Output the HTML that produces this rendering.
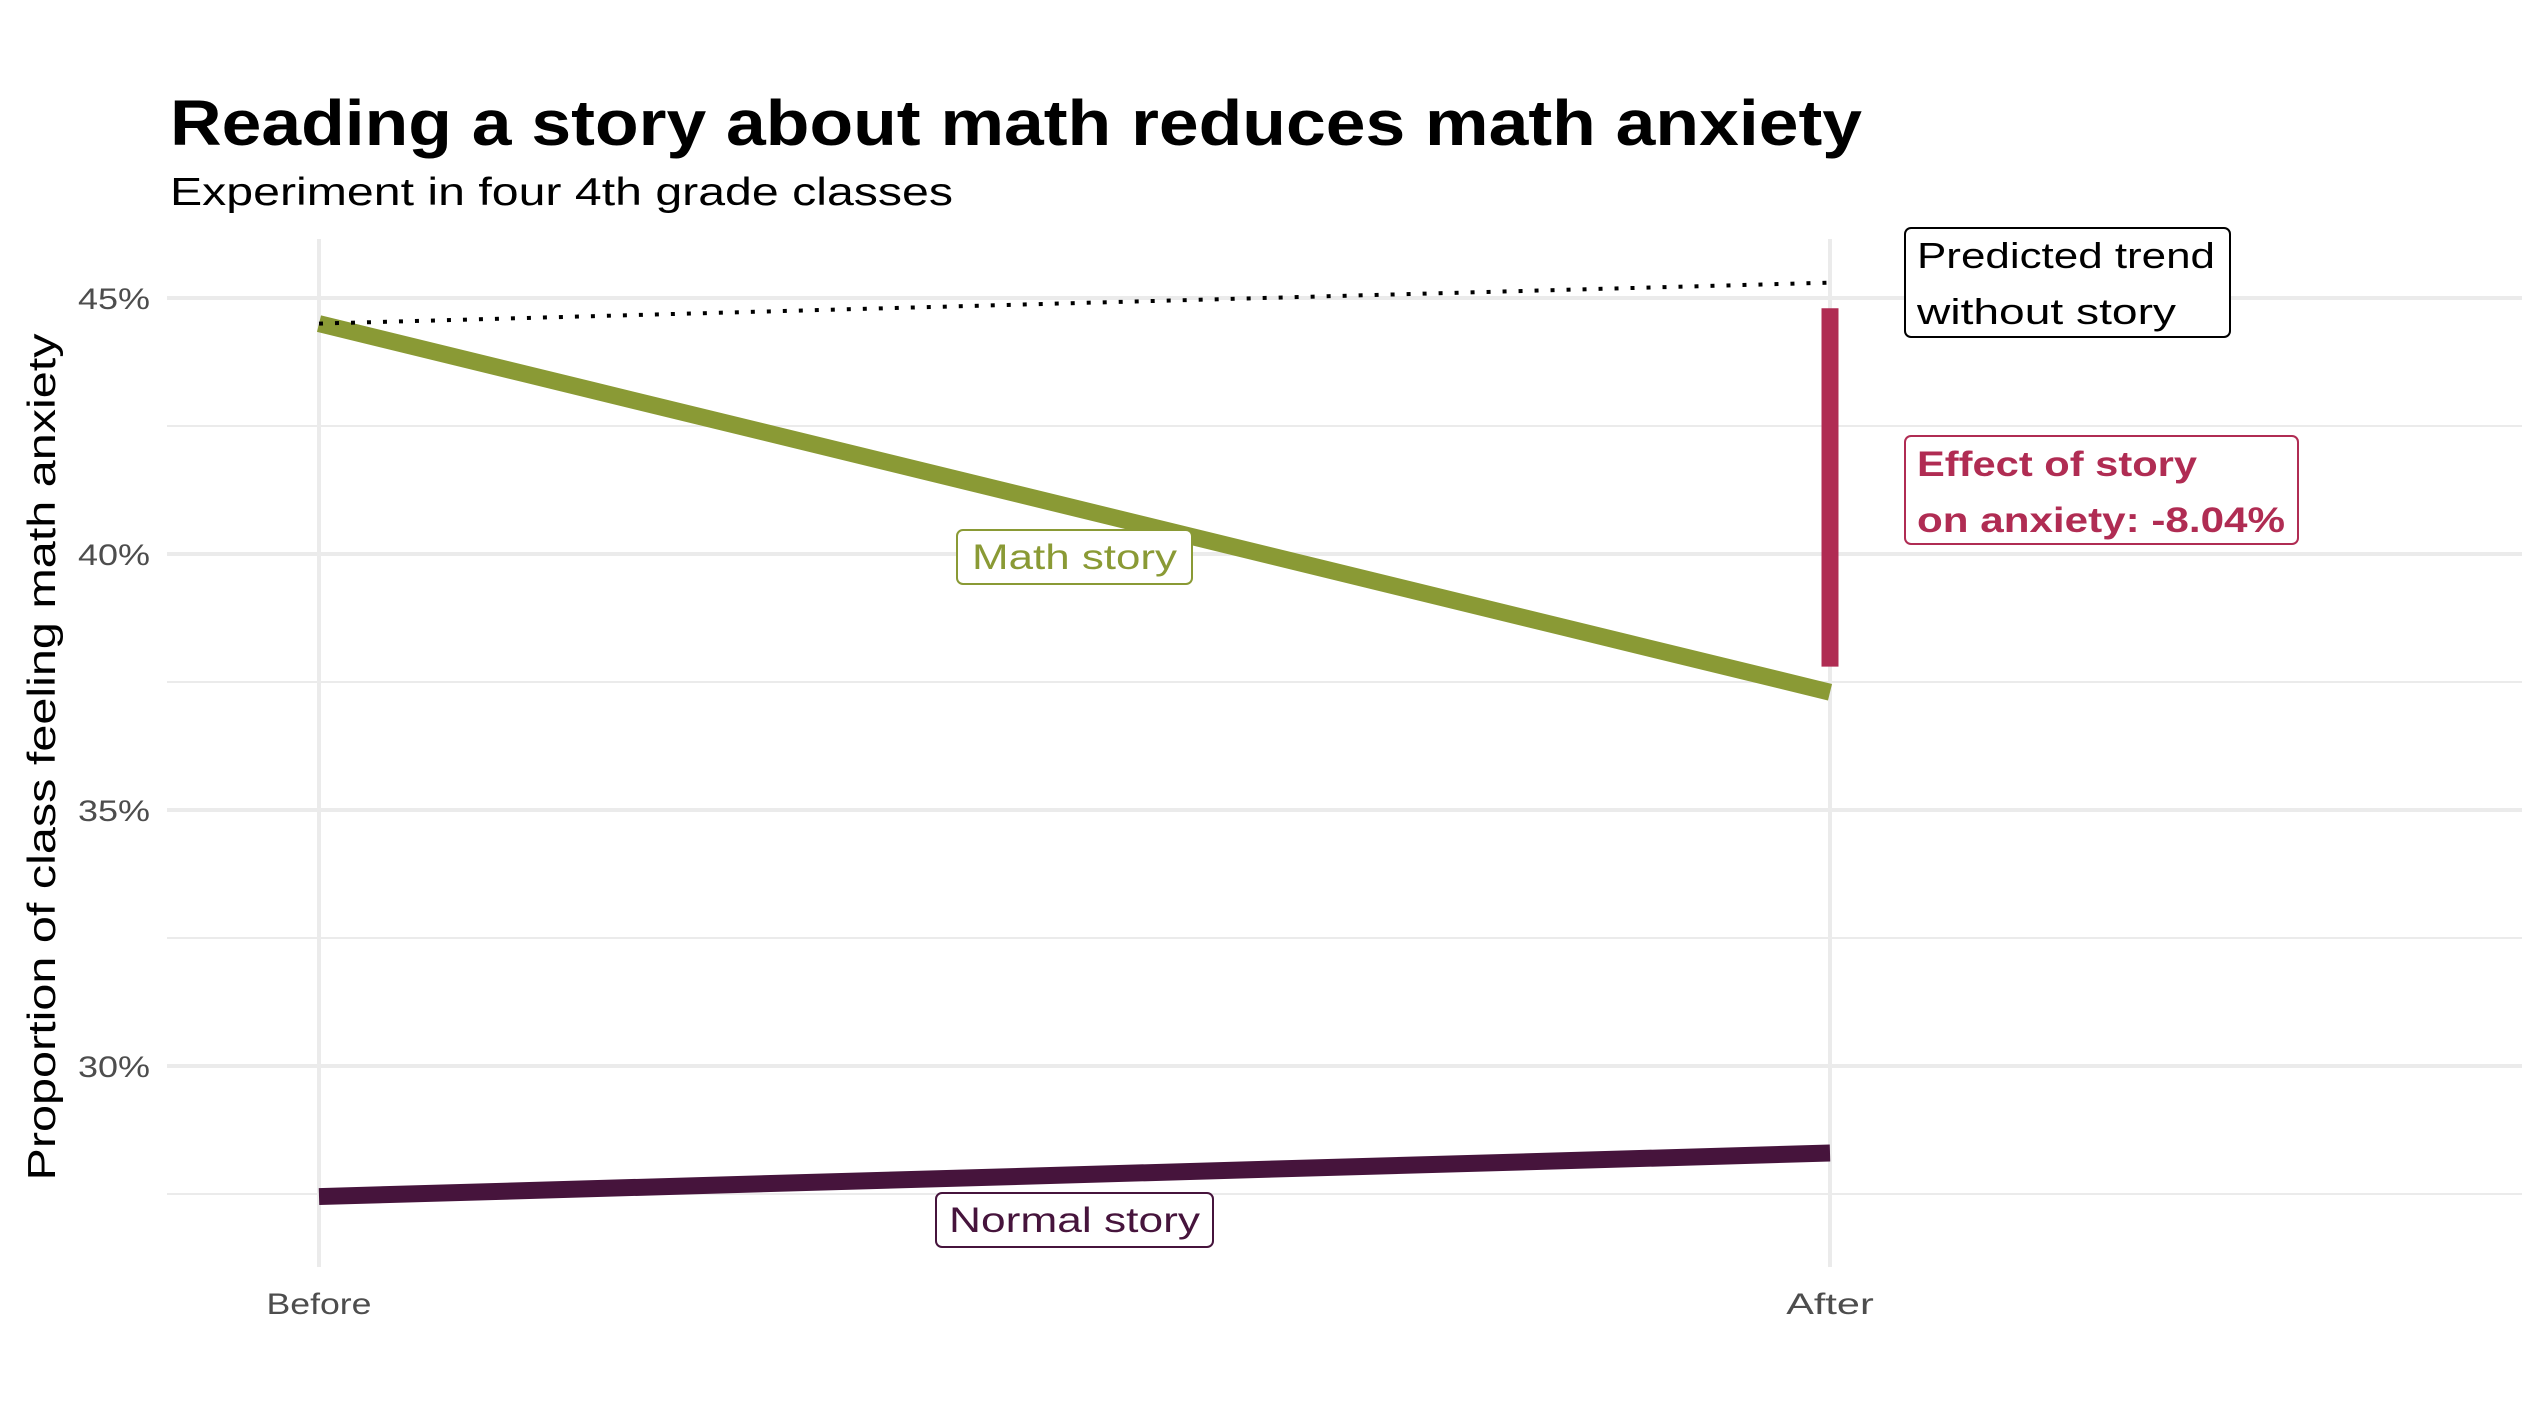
<!DOCTYPE html>
<html><head><meta charset="utf-8"><style>
html,body{margin:0;padding:0;background:#fff;}
svg{display:block;font-family:"Liberation Sans",sans-serif;}
</style></head><body>
<svg id="chart" width="2540" height="1422" viewBox="0 0 2540 1422">
<text x="170" y="145" font-size="64" font-weight="bold" fill="#000" textLength="1692" lengthAdjust="spacingAndGlyphs">Reading a story about math reduces math anxiety</text>
<text x="170" y="205" font-size="39" fill="#000" textLength="783" lengthAdjust="spacingAndGlyphs">Experiment in four 4th grade classes</text>
<text transform="translate(55,757) rotate(-90)" text-anchor="middle" font-size="39" fill="#000" textLength="847" lengthAdjust="spacingAndGlyphs">Proportion of class feeling math anxiety</text>
<g id="grid"></g>
<g id="marks"></g>
<g id="labels"></g>
</svg>
<script>
const categories = ["Before","After"];
const mathStory = [44.5, 37.3];
const normalStory = [27.45, 28.3];
const predicted = [44.5, 45.3];
const effectRange = [44.8, 37.8];
const yTicks = [30, 35, 40, 45];
const yMinor = [27.5, 32.5, 37.5, 42.5];

const NS = "http://www.w3.org/2000/svg";
const x = i => 319 + i * (1830 - 319);
const y = v => 298 + (45 - v) * 51.2;
const X0 = 167, X1 = 2522, Y0 = 239, Y1 = 1267;
function mk(tag, attrs, parent) {
  const e = document.createElementNS(NS, tag);
  for (const k in attrs) e.setAttribute(k, attrs[k]);
  parent.appendChild(e);
  return e;
}
const grid = document.getElementById('grid');
const marks = document.getElementById('marks');
const labels = document.getElementById('labels');

yMinor.forEach(v => {
  const l = mk('line', {x1: X0, x2: X1, y1: y(v), y2: y(v), stroke: '#ebebeb', 'stroke-width': 2}, grid);
  
  
});
yTicks.forEach(v => {
  const l = mk('line', {x1: X0, x2: X1, y1: y(v), y2: y(v), stroke: '#ebebeb', 'stroke-width': 4}, grid);
  
  
  const t = mk('text', {x: 150, y: y(v) + 11, 'text-anchor': 'end', 'font-size': 30, fill: '#4d4d4d', textLength: 72, lengthAdjust: 'spacingAndGlyphs'}, grid);
  t.textContent = v + '%';
  
  
});
categories.forEach((c, i) => {
  const l = mk('line', {x1: x(i), x2: x(i), y1: Y0, y2: Y1, stroke: '#ebebeb', 'stroke-width': 4}, grid);
  
  
  const t = mk('text', {x: x(i), y: 1314, 'text-anchor': 'middle', 'font-size': 30, fill: '#4d4d4d', textLength: c.length * 17.5, lengthAdjust: 'spacingAndGlyphs'}, grid);
  t.textContent = c;
  
  
});

const mathLine = mk('line', {x1: x(0), y1: y(mathStory[0]), x2: x(1), y2: y(mathStory[1]), stroke: '#8a9a35', 'stroke-width': 17}, marks);


const normLine = mk('line', {x1: x(0), y1: y(normalStory[0]), x2: x(1), y2: y(normalStory[1]), stroke: '#46143c', 'stroke-width': 17}, marks);


const pred = mk('line', {x1: x(0), y1: y(predicted[0]), x2: x(1), y2: y(predicted[1]), stroke: '#000', 'stroke-width': 4, 'stroke-dasharray': '4 12'}, marks);


const eff = mk('line', {x1: x(1), y1: y(effectRange[0]), x2: x(1), y2: y(effectRange[1]), stroke: '#b02c53', 'stroke-width': 17}, marks);



function label(lines, widths, bx, by, bw, bh, color, bold, name, size) {
  const g = mk('g', {}, labels);
  
  
  mk('rect', {x: bx, y: by, width: bw, height: bh, rx: 6, fill: '#fff', stroke: color, 'stroke-width': 2}, g);
  lines.forEach((s, i) => {
    const t = mk('text', {x: bx + 12, y: by + 40 + i * 56, 'font-size': size, fill: color, 'font-weight': bold ? 'bold' : 'normal', textLength: widths[i], lengthAdjust: 'spacingAndGlyphs'}, g);
    t.textContent = s;
  });
}
label(["Predicted trend", "without story"], [298, 259], 1905, 228, 325, 109, '#000', false, 'predicted-trend-label', 36);
label(["Effect of story", "on anxiety: -8.04%"], [280, 368], 1905, 436, 393, 108, '#b02c53', true, 'effect-label', 35);

function centerLabel(text, tw, cx, cy, w, color, name) {
  const g = mk('g', {}, labels);
  
  
  mk('rect', {x: cx - w / 2, y: cy - 27, width: w, height: 54, rx: 6, fill: '#fff', stroke: color, 'stroke-width': 2}, g);
  const t = mk('text', {x: cx, y: cy + 12, 'text-anchor': 'middle', 'font-size': 35, fill: color, textLength: tw, lengthAdjust: 'spacingAndGlyphs'}, g);
  t.textContent = text;
}
centerLabel("Math story", 205, (x(0) + x(1)) / 2, 557, 235, '#8a9a35', 'math-story-label');
centerLabel("Normal story", 251, (x(0) + x(1)) / 2, 1220, 277, '#46143c', 'normal-story-label');
</script>
</body></html>
